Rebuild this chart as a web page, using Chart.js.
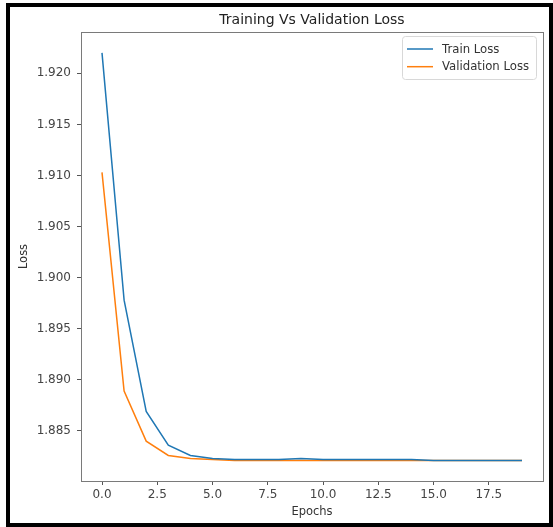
<!DOCTYPE html>
<html>
<head>
<meta charset="utf-8">
<script src="https://cdn.jsdelivr.net/npm/chart.js@4.4.0/dist/chart.umd.min.js"></script>
<style>
  html, body { margin: 0; padding: 0; background: #fff; }
  #wrap { position: relative; width: 553px; height: 527px; }
  #c { position: absolute; left: 0; top: 0; }
  #frame { position: absolute; left: 6px; top: 3px; width: 547px; height: 524px; box-sizing: border-box; border: 4px solid #000; pointer-events: none; }
</style>
</head>
<body>
<div id="wrap">
  <canvas id="c" width="553" height="527"></canvas>
  <div id="frame"></div>
</div>
<script>
const epochs = [0,1,2,3,4,5,6,7,8,9,10,11,12,13,14,15,16,17,18,19];
const trainLoss = [1.9220, 1.8978, 1.8869, 1.8836, 1.8826, 1.8823, 1.8822, 1.8822, 1.8822, 1.8823,
                   1.8822, 1.8822, 1.8822, 1.8822, 1.8822, 1.8821, 1.8821, 1.8821, 1.8821, 1.8821];
const valLoss = [1.9103, 1.8889, 1.8840, 1.8826, 1.8823, 1.8822, 1.8821, 1.8821, 1.8821, 1.8821,
                 1.8821, 1.8821, 1.8821, 1.8821, 1.8821, 1.8821, 1.8821, 1.8821, 1.8821, 1.8821];
const xTicks = [0, 2.5, 5, 7.5, 10, 12.5, 15, 17.5];
const yTicks = [1.885, 1.890, 1.895, 1.900, 1.905, 1.910, 1.915, 1.920];
const seriesNames = ['Train Loss', 'Validation Loss'];

const FONT = "'DejaVu Sans', sans-serif";

const frameBox = {
  id: 'frameBox',
  afterDraw(chart) {
    const {ctx, chartArea: a} = chart;
    ctx.save();
    ctx.strokeStyle = '#7a7a7a';
    ctx.lineWidth = 1;
    ctx.strokeRect(Math.round(a.left) + 0.5, Math.round(a.top) + 0.5, Math.round(a.right - a.left), Math.round(a.bottom - a.top));
    ctx.restore();
  }
};

const mplLegend = {
  id: 'mplLegend',
  afterDraw(chart) {
    const ctx = chart.ctx;
    const bx = 402, by = 36, bw = 134, bh = 43;
    ctx.save();
    ctx.fillStyle = 'rgba(255,255,255,0.8)';
    ctx.strokeStyle = '#d8d8d8';
    ctx.lineWidth = 1;
    ctx.beginPath();
    ctx.roundRect(bx + 0.5, by + 0.5, bw, bh, 3);
    ctx.fill();
    ctx.stroke();
    ctx.font = '11.7px ' + FONT;
    ctx.textBaseline = 'middle';
    ctx.textAlign = 'left';
    chart.data.datasets.forEach((ds, i) => {
      const y = 49 + i * 17.7;
      ctx.strokeStyle = ds.borderColor;
      ctx.lineWidth = 1.5;
      ctx.beginPath();
      ctx.moveTo(407, y);
      ctx.lineTo(433, y);
      ctx.stroke();
      ctx.fillStyle = '#333';
      ctx.fillText(ds.label, 442, y + 0.5);
    });
    ctx.restore();
  }
};

new Chart(document.getElementById('c'), {
  type: 'line',
  data: {
    datasets: [
      { label: seriesNames[0], data: epochs.map((e, i) => ({x: e, y: trainLoss[i]})),
        borderColor: '#1f77b4', backgroundColor: '#1f77b4', borderWidth: 1.5, pointRadius: 0, tension: 0, fill: false },
      { label: seriesNames[1], data: epochs.map((e, i) => ({x: e, y: valLoss[i]})),
        borderColor: '#ff7f0e', backgroundColor: '#ff7f0e', borderWidth: 1.5, pointRadius: 0, tension: 0, fill: false }
    ]
  },
  options: {
    responsive: false,
    animation: false,
    devicePixelRatio: 1,
    layout: { padding: { left: 0, right: 10, top: 0, bottom: 0 } },
    plugins: {
      legend: { display: false },
      tooltip: { enabled: false },
      title: {
        display: true,
        text: 'Training Vs Validation Loss',
        fullSize: false,
        color: '#222',
        font: { family: FONT, size: 14, weight: 'normal' },
        padding: { top: 11.6, bottom: 3.6 }
      }
    },
    scales: {
      x: {
        type: 'linear',
        min: -0.95,
        max: 19.95,
        afterBuildTicks(scale) { scale.ticks = xTicks.map(v => ({value: v})); },
        afterFit(scale) { scale.height = 46; },
        ticks: {
          autoSkip: false, maxRotation: 0, padding: 3,
          color: '#444', font: { family: FONT, size: 12 },
          callback: v => Number(v).toFixed(1)
        },
        grid: { display: true, drawOnChartArea: false, drawTicks: true, tickLength: 4, color: '#555' },
        border: { display: true, color: '#7a7a7a', width: 1 },
        title: { display: true, text: 'Epochs', color: '#333', font: { family: FONT, size: 11.5 }, padding: { top: 0, bottom: 8.5 } }
      },
      y: {
        type: 'linear',
        min: 1.8801,
        max: 1.92404,
        afterBuildTicks(scale) { scale.ticks = yTicks.map(v => ({value: v})); },
        afterFit(scale) { scale.width = 81; },
        ticks: {
          autoSkip: false, padding: 6,
          color: '#444', font: { family: FONT, size: 12 },
          callback: v => Number(v).toFixed(3)
        },
        grid: { display: true, drawOnChartArea: false, drawTicks: true, tickLength: 4, color: '#555' },
        border: { display: true, color: '#7a7a7a', width: 1 },
        title: { display: true, text: 'Loss', color: '#333', font: { family: FONT, size: 11.5 }, padding: { top: 17.5, bottom: 0 } }
      }
    }
  },
  plugins: [frameBox, mplLegend]
});
</script>
</body>
</html>
